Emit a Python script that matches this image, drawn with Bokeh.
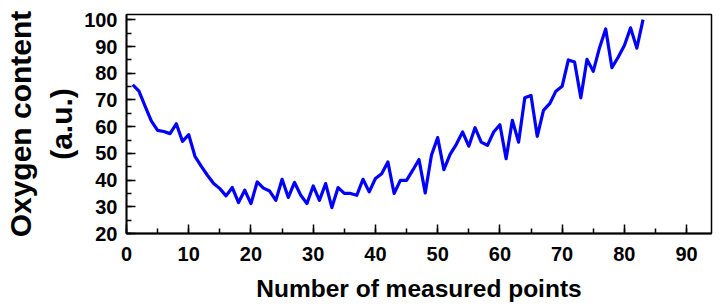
from bokeh.plotting import figure
from bokeh.models import Range1d, SingleIntervalTicker
from bokeh.embed import file_html
from bokeh.resources import INLINE

points = list(range(1, 84))
oxygen = [75.7, 73.3, 67.6, 62.1, 58.6, 58.2, 57.4, 61.1, 54.5, 57.0,
          48.9, 45.2, 41.8, 38.7, 36.8, 34.1, 37.2, 31.6, 36.2, 31.2,
          39.3, 37.0, 35.9, 32.4, 40.3, 33.5, 39.1, 34.3, 31.2, 37.8,
          32.4, 38.7, 29.7, 37.2, 35.0, 35.0, 34.3, 40.3, 35.6, 40.6,
          42.4, 46.8, 35.0, 39.9, 39.9, 43.7, 47.7, 35.2, 49.3, 55.9,
          43.9, 49.6, 53.4, 58.0, 52.7, 59.6, 54.2, 53.0, 58.0, 60.7,
          48.0, 62.4, 54.2, 70.8, 71.7, 56.4, 66.1, 68.6, 73.3, 75.1,
          85.0, 84.2, 70.8, 85.2, 80.7, 89.5, 96.6, 82.1, 86.0, 90.4,
          97.0, 89.4, 100.1]

x_title = "Number of measured points"
y_title = "Oxygen content\n(a.u.)"

p = figure(width=720, height=307, output_backend="svg", toolbar_location=None,
           x_range=Range1d(0, 94), y_range=Range1d(20, 102),
           min_border_left=123, min_border_right=9, min_border_top=14, min_border_bottom=74)

p.line(points, oxygen, line_color="#0000FF", line_width=3.2, line_join="round")

p.xgrid.visible = False
p.ygrid.visible = False
p.outline_line_color = "black"
p.outline_line_width = 1.5
p.background_fill_color = "white"
p.border_fill_color = "white"

p.xaxis.ticker = SingleIntervalTicker(interval=10, num_minor_ticks=2)
p.yaxis.ticker = SingleIntervalTicker(interval=10, num_minor_ticks=2)

for ax in (p.xaxis[0], p.yaxis[0]):
    ax.axis_line_color = "black"
    ax.axis_line_width = 1.8
    ax.major_tick_line_color = "black"
    ax.minor_tick_line_color = "black"
    ax.major_tick_line_width = 1.5
    ax.minor_tick_line_width = 1.5
    ax.major_tick_in = 9
    ax.major_tick_out = 0
    ax.minor_tick_in = 5
    ax.minor_tick_out = 0
    ax.major_label_text_font = "Liberation Sans"
    ax.major_label_text_font_style = "bold"
    ax.major_label_text_font_size = "20px"
    ax.major_label_text_color = "black"
    ax.axis_label_text_font = "Liberation Sans"
    ax.axis_label_text_font_style = "bold"
    ax.axis_label_text_color = "black"

p.xaxis.axis_label = x_title
p.xaxis.axis_label_text_font_size = "24.5px"
p.xaxis.major_label_standoff = 13
p.xaxis.axis_label_standoff = 11

p.yaxis.axis_label = y_title
p.yaxis.axis_label_text_font_size = "30px"
p.yaxis.axis_label_text_line_height = 1.25
p.yaxis.major_label_standoff = 9
p.yaxis.axis_label_standoff = 3

open("out.html", "w").write(file_html(p, INLINE))
